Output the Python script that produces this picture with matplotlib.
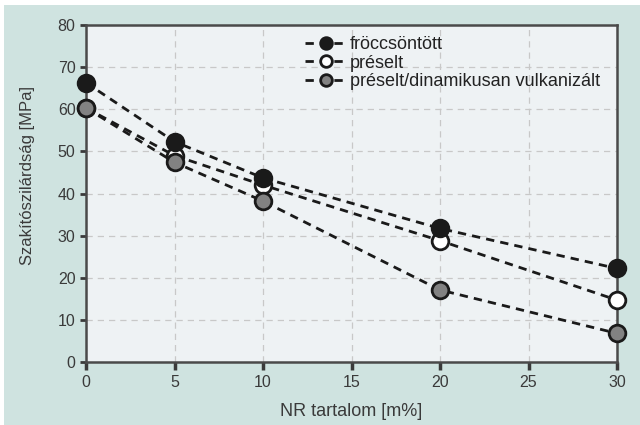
import matplotlib.pyplot as plt
from matplotlib.patches import Rectangle

plt.rcParams['font.family'] = ['Liberation Sans', 'DejaVu Sans']

# data
nr = [0, 5, 10, 20, 30]
froccs = [66.3, 52.3, 43.7, 31.7, 22.2]
preselt = [60.3, 49.0, 42.0, 28.8, 14.7]
dinam = [60.3, 47.4, 38.2, 17.1, 6.8]
labels = ['fröccsöntött', 'préselt', 'préselt/dinamikusan vulkanizált']

fig = plt.figure(figsize=(6.4, 4.25), dpi=100, facecolor='white')
fig.patches.append(Rectangle((4/640, 0), 1, 1 - 5/425, transform=fig.transFigure,
                             facecolor='#cfe3e0', edgecolor='none', zorder=-10))
ax = fig.add_axes([86/640, 1 - 362/425, (617 - 86)/640, (362 - 25)/425])
ax.set_facecolor('#eef2f4')

txt = '#3a3a3a'
lw = 2.0
ms = 12
dash = (3, 2.2)
ax.plot(nr, preselt, '--o', color='#1a1a1a', lw=lw, ms=ms, mfc='white', mec='#1a1a1a', mew=2,
        label=labels[1], zorder=3, clip_on=False, dashes=dash)
ax.plot(nr, dinam, '--o', color='#1a1a1a', lw=lw, ms=ms, mfc='#828282', mec='#1a1a1a', mew=2,
        label=labels[2], zorder=4, clip_on=False, dashes=dash)
ax.plot(nr, froccs, '--o', color='#1a1a1a', lw=lw, ms=ms, mfc='#1a1a1a', mec='#1a1a1a', mew=2,
        label=labels[0], zorder=5, clip_on=False, dashes=dash)

ax.set_xlim(0, 30)
ax.set_ylim(0, 80)
ax.set_xticks([0, 5, 10, 15, 20, 25, 30])
ax.set_yticks(range(0, 81, 10))
ax.grid(True, color='#c8c8c8', ls=(0, (5, 4)), lw=0.9)
ax.set_axisbelow(True)
for s in ax.spines.values():
    s.set_color('#4a4a4a')
    s.set_linewidth(1.8)
ax.tick_params(axis='x', colors=txt, labelsize=11.5, direction='out', length=6, width=2.5)
ax.tick_params(axis='y', colors=txt, labelsize=11.5, direction='out', length=4, width=2)

ax.set_xlabel('NR tartalom [m%]', fontsize=13, color=txt)
ax.set_ylabel('Szakítószilárdság [MPa]', fontsize=12, color=txt)
ax.xaxis.set_label_coords(0.5, (362 - 412) / 337, transform=ax.transAxes)
ax.yaxis.set_label_coords((28 - 86) / 531, (362 - 175) / 337, transform=ax.transAxes)
ax.xaxis.label.set_va('center')
ax.yaxis.label.set_va('center')

h, l = ax.get_legend_handles_labels()
order = [2, 0, 1]
leg = ax.legend([h[i] for i in order], [l[i] for i in order], loc='upper left',
                bbox_to_anchor=(0.382, 1.015), frameon=False, fontsize=13,
                handlelength=2.3, handletextpad=0.2, labelspacing=0.08, markerscale=0.7)
for t in leg.get_texts():
    t.set_color('#222222')

fig.savefig('out.png', dpi=100, facecolor=fig.get_facecolor())
